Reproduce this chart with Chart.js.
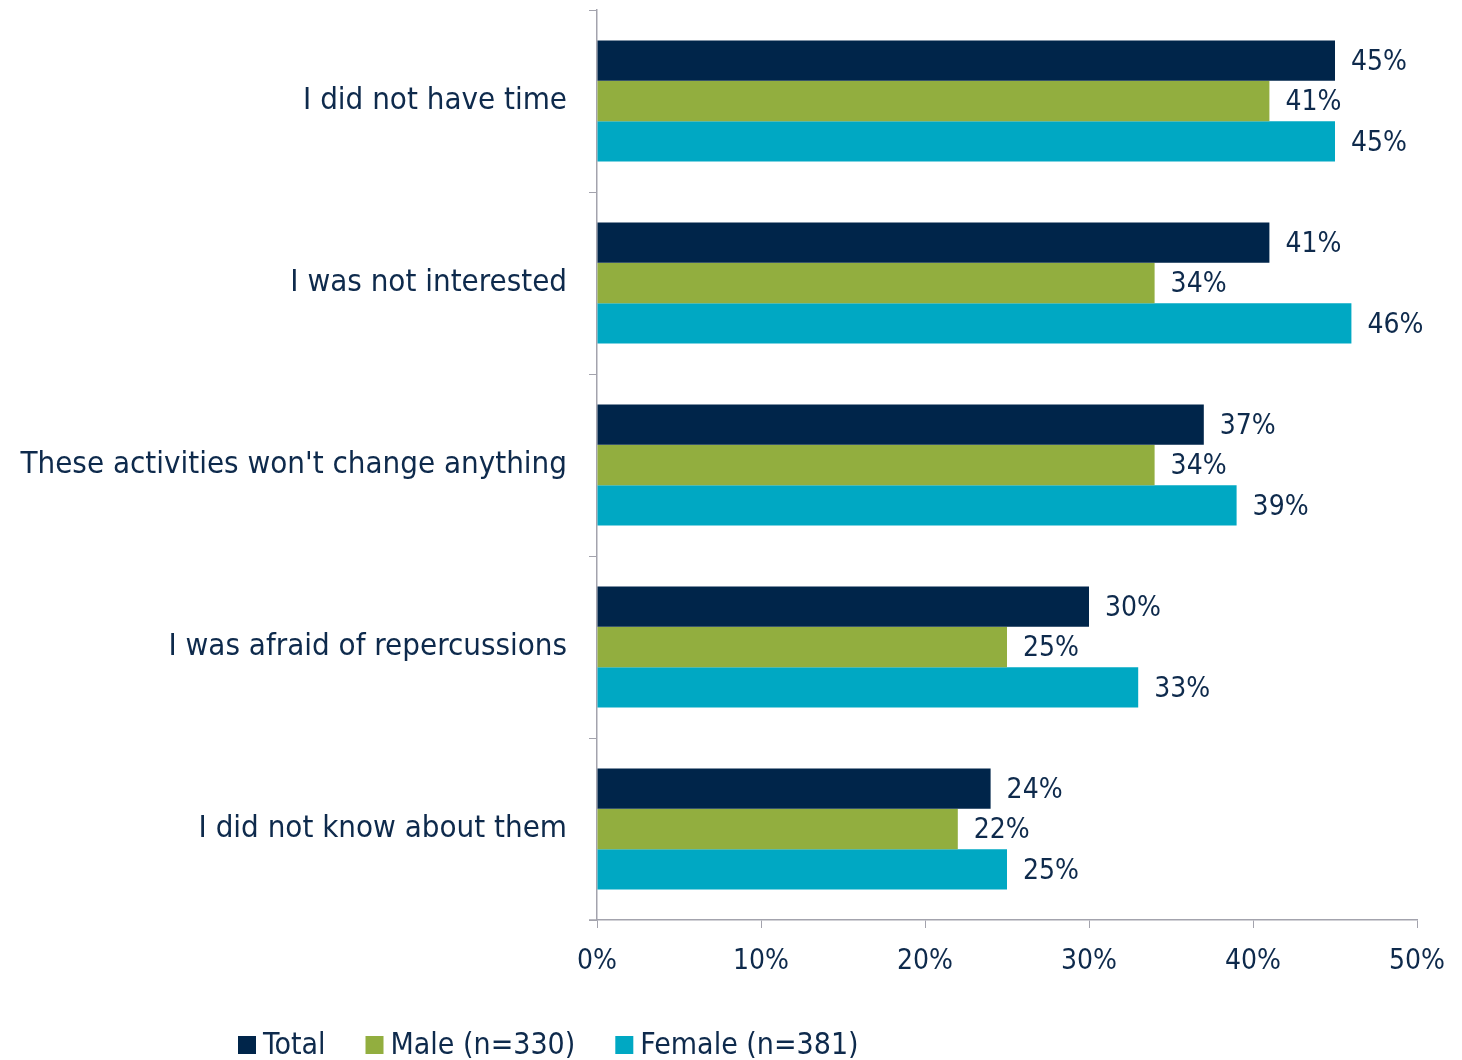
<!DOCTYPE html>
<html>
<head>
<meta charset="utf-8">
<script src="https://cdn.jsdelivr.net/npm/chart.js@4"></script>
<style>
    body { margin: 0; background: #fff; }
    #wrap { width: 1462px; height: 1060px; position: relative; }
</style>
</head>
<body>
<div id="wrap"><canvas id="reasonsChart" width="1462" height="1060"></canvas></div>
<script>
// ---- data ----
const categories = [
    'I did not have time',
    'I was not interested',
    "These activities won't change anything",
    'I was afraid of repercussions',
    'I did not know about them'
];
const seriesNames = ['Total', 'Male (n=330)', 'Female (n=381)'];
const totalValues = [45, 41, 37, 30, 24];
const maleValues = [41, 34, 34, 25, 22];
const femaleValues = [45, 46, 39, 33, 25];
const xTicks = [0, 10, 20, 30, 40, 50];

const colors = {
    total: '#00254A',
    male: '#92AE3F',
    female: '#00A8C3',
    text: '#0E2A4C',
    axis: '#A3A3AD'
};
const FONT = '"DejaVu Sans Condensed", "DejaVu Sans", sans-serif';

// value labels at bar ends
const valueLabels = {
    id: 'valueLabels',
    afterDatasetsDraw(chart) {
        const ctx = chart.ctx;
        ctx.save();
        ctx.font = '28px ' + FONT;
        ctx.fillStyle = colors.text;
        ctx.textAlign = 'left';
        ctx.textBaseline = 'middle';
        chart.data.datasets.forEach((ds, i) => {
            chart.getDatasetMeta(i).data.forEach((bar, j) => {
                ctx.fillText(ds.data[j] + '%', bar.x + 16, bar.y + 2);
            });
        });
        ctx.restore();
    }
};

// legend drawn under the axis
const bottomLegend = {
    id: 'bottomLegend',
    afterDraw(chart) {
        const ctx = chart.ctx;
        ctx.save();
        ctx.font = '30px ' + FONT;
        ctx.textBaseline = 'middle';
        let x = 238;
        const y = 1045;
        chart.data.datasets.forEach(ds => {
            ctx.fillStyle = ds.backgroundColor;
            ctx.fillRect(x, y - 9, 18, 18);
            ctx.fillStyle = colors.text;
            ctx.fillText(ds.label, x + 25, y + 1);
            x += 25 + ctx.measureText(ds.label).width + 40;
        });
        // short extension of the x axis line under the y ticks
        const area = chart.chartArea;
        ctx.strokeStyle = colors.axis;
        ctx.lineWidth = 1.5;
        ctx.beginPath();
        ctx.moveTo(area.left - 8, area.bottom);
        ctx.lineTo(area.left, area.bottom);
        ctx.stroke();
        ctx.restore();
    }
};

new Chart(document.getElementById('reasonsChart'), {
    type: 'bar',
    data: {
        labels: categories,
        datasets: [
            { label: seriesNames[0], data: totalValues, backgroundColor: colors.total },
            { label: seriesNames[1], data: maleValues, backgroundColor: colors.male },
            { label: seriesNames[2], data: femaleValues, backgroundColor: colors.female }
        ]
    },
    options: {
        indexAxis: 'y',
        responsive: false,
        animation: false,
        datasets: {
            bar: { categoryPercentage: 0.665, barPercentage: 1.0, borderWidth: 0 }
        },
        layout: { padding: { top: 10, right: 41, bottom: 80, left: 0 } },
        plugins: {
            legend: { display: false },
            tooltip: { enabled: false }
        },
        scales: {
            x: {
                min: 0,
                max: 50,
                afterBuildTicks: (s) => { s.ticks = xTicks.map(v => ({ value: v })); },
                afterFit: (s) => { s.height = 60; },
                ticks: {
                    callback: (v) => v + '%',
                    color: colors.text,
                    font: { family: FONT, size: 28 },
                    padding: 17,
                    maxRotation: 0
                },
                grid: { drawOnChartArea: false, color: colors.axis, tickLength: 8 },
                border: { color: colors.axis, width: 1.5 }
            },
            y: {
                afterFit: (s) => {
                    s.width = 597;
                    s.paddingTop = 0;
                    s.paddingBottom = 0;
                },
                ticks: {
                    color: colors.text,
                    font: { family: FONT, size: 31 },
                    padding: 22
                },
                grid: { drawOnChartArea: false, offset: true, color: colors.axis, tickLength: 8 },
                border: { color: colors.axis, width: 1.5 }
            }
        }
    },
    plugins: [valueLabels, bottomLegend]
});
</script>
</body>
</html>
